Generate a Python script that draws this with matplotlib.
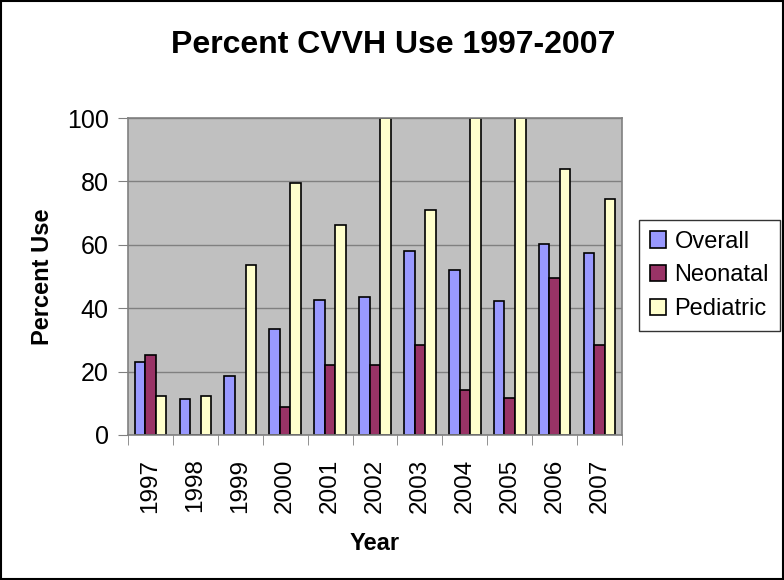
import matplotlib
matplotlib.use("Agg")
import matplotlib.pyplot as plt
import numpy as np

years = ["1997", "1998", "1999", "2000", "2001", "2002", "2003", "2004", "2005", "2006", "2007"]
overall = [23.0, 11.2, 18.6, 33.4, 42.7, 43.6, 57.9, 52.0, 42.2, 60.4, 57.4]
neonatal = [25.1, 0, 0, 8.9, 22.1, 22.1, 28.5, 14.2, 11.7, 49.5, 28.5]
pediatric = [12.4, 12.4, 53.5, 79.6, 66.3, 100, 71.1, 100, 100, 84.0, 74.6]

plt.rcParams['font.family'] = ['Liberation Sans', 'DejaVu Sans']

fig = plt.figure(figsize=(7.84, 5.8), dpi=100)
ax = fig.add_axes([128/784, 1 - 435/580, 494/784, 317/580])

x = np.arange(len(years))
w = 0.235
ax.bar(x - w, overall, w, color='#9999FF', edgecolor='black', linewidth=1.2, label='Overall')
ax.bar(x, neonatal, w, color='#993366', edgecolor='black', linewidth=1.2, label='Neonatal')
ax.bar(x + w, pediatric, w, color='#FFFFCC', edgecolor='black', linewidth=1.2, label='Pediatric')

ax.set_facecolor('#C0C0C0')
ax.set_xlim(-0.5, len(years) - 0.5)
ax.set_ylim(0, 100)
ax.set_yticks(range(0, 101, 20))
ax.yaxis.grid(True, color='#808080', linewidth=1)
ax.set_axisbelow(True)
for s in ax.spines.values():
    s.set_color('#808080')
    s.set_linewidth(1.2)

ax.set_xticks(x)
ax.set_xticklabels(years, rotation=90, fontsize=17.5)
ax.tick_params(axis='x', length=0, pad=17)
ax.set_xticks(np.arange(-0.5, len(years), 1), minor=True)
ax.tick_params(axis='x', which='minor', length=7, color='#808080', direction='out')
ax.tick_params(axis='y', labelsize=18, length=7, color='#808080', direction='out', pad=7)

ax.set_xlabel('Year', fontsize=17, fontweight='bold', labelpad=14)
ax.set_ylabel('Percent Use', fontsize=17, fontweight='bold', labelpad=9)
fig.text(393/784, 1 - 45/580, 'Percent CVVH Use 1997-2007', fontsize=23, fontweight='bold',
         ha='center', va='center')

leg = ax.legend(loc='upper left', bbox_to_anchor=((639 - 128)/494, (435 - 220)/317),
                fontsize=17, frameon=True, fancybox=False, handlelength=0.7, handleheight=0.7,
                handletextpad=0.35, labelspacing=0.5, borderpad=0.45, borderaxespad=0,
                edgecolor='black')
leg.get_frame().set_linewidth(1)

fig.patches.append(plt.Rectangle((0.001, 0.001), 0.998, 0.998, transform=fig.transFigure,
                                 fill=False, edgecolor='black', linewidth=1.5))

fig.savefig('out.png', dpi=100)
